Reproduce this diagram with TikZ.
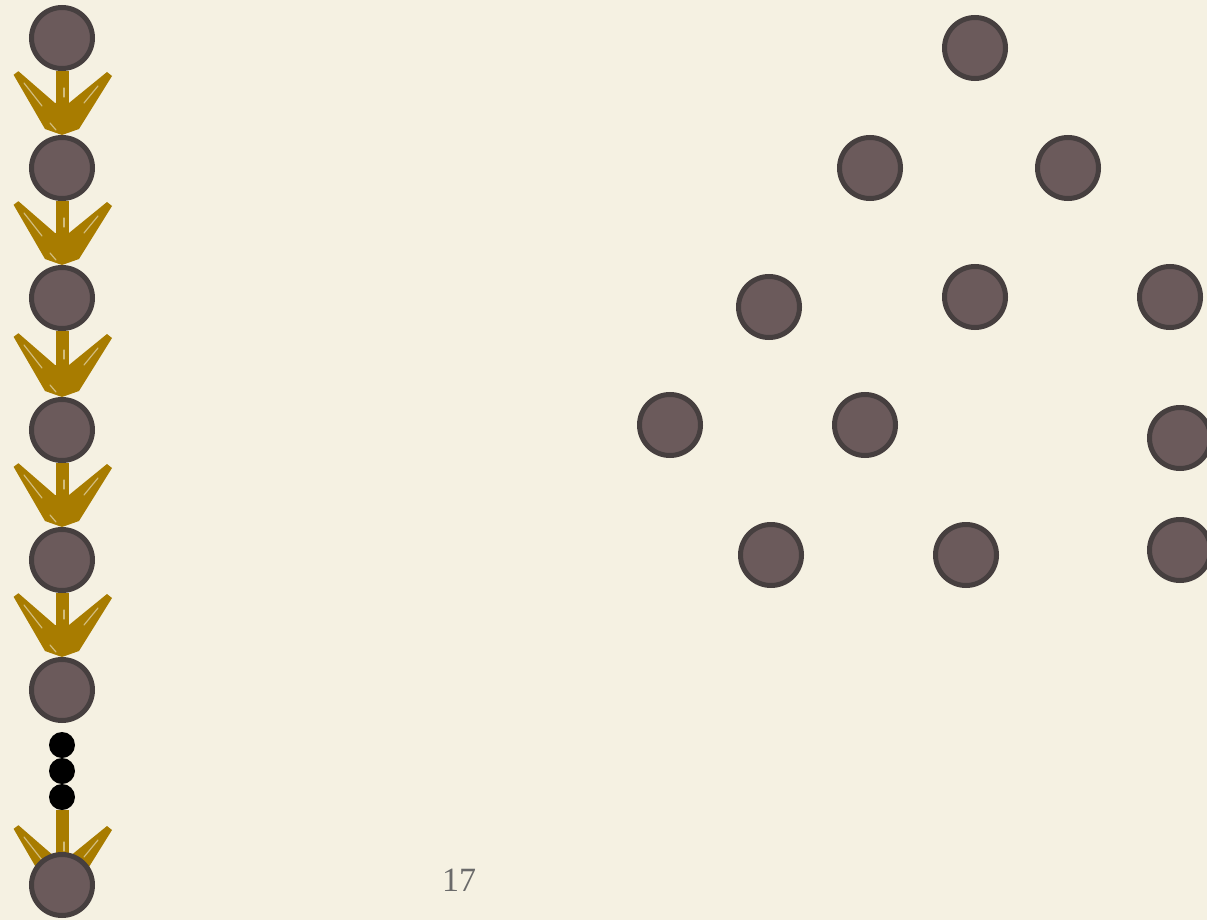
\documentclass[tikz,border=0pt]{standalone}
\usepackage{fontspec}
\setmainfont{Liberation Serif}
\usetikzlibrary{calc}
\pgfdeclarelayer{paperlayer}
\pgfdeclarelayer{bg}
\pgfsetlayers{paperlayer,bg,main}
\definecolor{paper}{HTML}{F5F1E2}
\definecolor{ball}{HTML}{6B5A5B}
\definecolor{ballrim}{HTML}{463F3F}
\definecolor{brush}{HTML}{A87C00}
\definecolor{pgnum}{HTML}{6A6A6A}
\tikzset{
  ballnode/.style={circle, minimum size=61pt, inner sep=0pt, fill=ball, draw=ballrim, line width=5pt},
  dotnode/.style={circle, minimum size=26pt, inner sep=0pt, fill=black},
  shaft/.style={draw=brush, line width=13pt},
  headfill/.style={fill=brush},
  streak/.style={draw=paper, line width=1.2pt, opacity=0.55, line cap=round},
}
\newcommand{\brusharrow}[2]{%
  \path[shaft] (#1.south) -- ($(#2)+(0,-20)$);
  \path[headfill] ($(#2)+(-48.4,-58.2)$) -- ($(#2)+(-43.6,-61.8)$) -- ($(#2)+(-7,-30)$)
     -- ($(#2)+(7,-30)$) -- ($(#2)+(45,-61)$) -- ($(#2)+(50,-57)$)
     -- ($(#2)+(17,-4)$) -- ($(#2)+(0,2)$) -- ($(#2)+(-17,-4)$) -- cycle;
  \path[streak] ($(#2)+(-38,-50)$) -- ($(#2)+(-20,-27)$);
  \path[streak] ($(#2)+(-12,-10)$) -- ($(#2)+(-6,-3)$);
  \path[streak] ($(#2)+(36,-47)$) -- ($(#2)+(22,-30)$);
  \path[streak] ($(#2)+(2,-45)$) -- ($(#2)+(2,-36)$);
}
\begin{document}
\begin{tikzpicture}[x=1pt,y=-1pt]
\begin{pgfonlayer}{paperlayer}
\fill[paper] (0,0) rectangle (1207,920);
\end{pgfonlayer}
\useasboundingbox (0,0) rectangle (1207,920);
% left chain
\node[ballnode] (c1) at (62,38) {};
\node[ballnode] (c2) at (62,168) {};
\node[ballnode] (c3) at (62,298) {};
\node[ballnode] (c4) at (62,430) {};
\node[ballnode] (c5) at (62,560) {};
\node[ballnode] (c6) at (62,690) {};
\node[dotnode] (d1) at (62,745) {};
\node[dotnode] (d2) at (62,771) {};
\node[dotnode] (d3) at (62,797) {};
\node[ballnode] (c7) at (62,885) {};
\coordinate (t2) at ($(c2.north)+(0,-2)$);
\coordinate (t3) at ($(c3.north)+(0,-2)$);
\coordinate (t4) at ($(c4.north)+(0,-2)$);
\coordinate (t5) at ($(c5.north)+(0,-2)$);
\coordinate (t6) at ($(c6.north)+(0,-2)$);
\coordinate (t7) at ($(c7.north)+(0,35)$);
\begin{pgfonlayer}{bg}
\brusharrow{c1}{t2}
\brusharrow{c2}{t3}
\brusharrow{c3}{t4}
\brusharrow{c4}{t5}
\brusharrow{c5}{t6}
\brusharrow{d3}{t7}
\end{pgfonlayer}
% right cluster
\node[ballnode] (r1) at (975,48) {};
\node[ballnode] (r2) at (870,168) {};
\node[ballnode] (r3) at (1068,168) {};
\node[ballnode] (r4) at (769,307) {};
\node[ballnode] (r5) at (975,297) {};
\node[ballnode] (r6) at (1170,297) {};
\node[ballnode] (r7) at (670,425) {};
\node[ballnode] (r8) at (865,425) {};
\node[ballnode] (r9) at (1180,438) {};
\node[ballnode] (r10) at (771,555) {};
\node[ballnode] (r11) at (966,555) {};
\node[ballnode] (r12) at (1180,550) {};
% page number
\node[text=pgnum, font=\fontsize{34}{40}\selectfont] (pg) at (459,880) {17};
\end{tikzpicture}
\end{document}
